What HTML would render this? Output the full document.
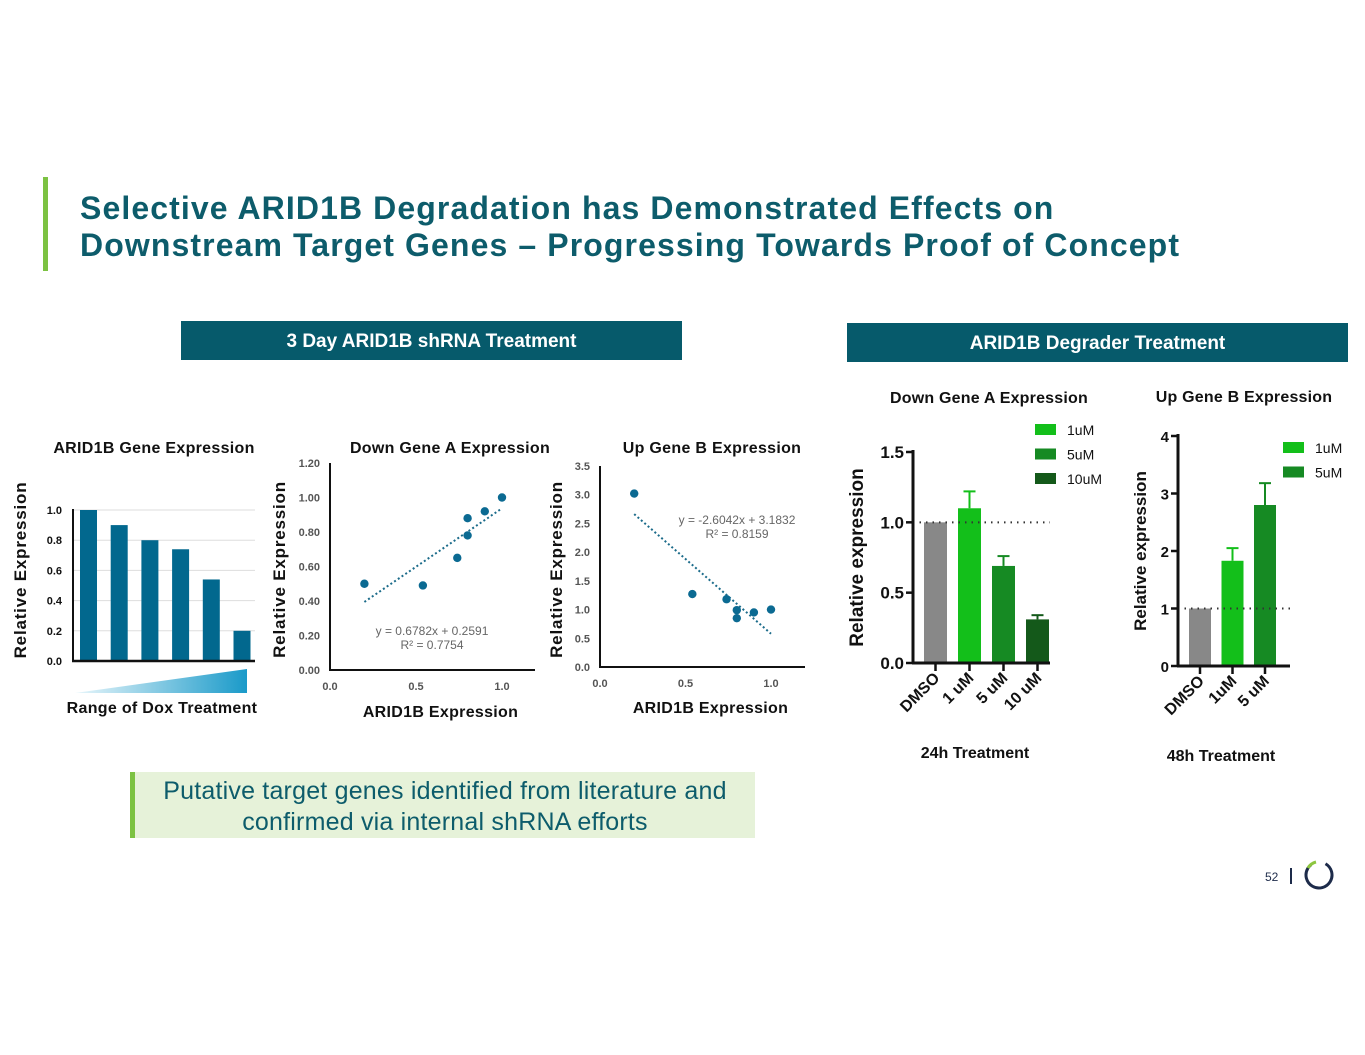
<!DOCTYPE html>
<html><head><meta charset="utf-8"><style>
body{margin:0;background:#fff;font-family:"Liberation Sans",Arial,sans-serif}
#root{position:relative;width:1365px;height:1055px;overflow:hidden}
.t{position:absolute;font-weight:bold}
</style></head><body>
<div id="root">
<div style="position:absolute;left:43px;top:177px;width:5px;height:94px;background:#7cc242"></div>
<div class="t" style="left:80px;top:190px;font-size:32px;letter-spacing:1.1px;line-height:37px;color:#0d5c6b">Selective ARID1B Degradation has Demonstrated Effects on<br>Downstream Target Genes – Progressing Towards Proof of Concept</div>
<div class="t" style="left:181px;top:321px;width:501px;height:39px;background:#065a6b;color:#fff;font-size:19px;line-height:41px;text-align:center">3 Day ARID1B shRNA Treatment</div>
<div class="t" style="left:847px;top:323px;width:501px;height:39px;background:#065a6b;color:#fff;font-size:19px;line-height:41px;text-align:center">ARID1B Degrader Treatment</div>
<div style="position:absolute;left:130px;top:772px;width:625px;height:66px;background:#e6f2d9;border-left:5px solid #7cc242;box-sizing:border-box;color:#0d5c6b;font-size:25px;letter-spacing:0.2px;line-height:31px;text-align:center;padding-top:4px">Putative target genes identified from literature and<br>confirmed via internal shRNA efforts</div>
<div style="position:absolute;left:1265px;top:870px;font-size:12px;color:#1d2b4a">52</div>
<div style="position:absolute;left:1290px;top:868px;width:1.5px;height:16px;background:#1d2b4a"></div>
<svg style="position:absolute;left:1303px;top:859px" width="32" height="32"><circle cx="16" cy="16" r="13" fill="none" stroke="#1d2b4a" stroke-width="3" stroke-dasharray="66 82" transform="rotate(-60 16 16)"/><path d="M5 9 A13 13 0 0 1 13 3" fill="none" stroke="#8dc63f" stroke-width="3"/></svg>
<svg id="ch" width="1365" height="1055" style="position:absolute;left:0;top:0">
<defs><linearGradient id="gr" x1="0" x2="1"><stop offset="0" stop-color="#e8f6fb"/><stop offset="1" stop-color="#1a9ac9"/></linearGradient></defs>
</svg>
</div>
<script>
const dox=[1.0,0.9,0.8,0.74,0.54,0.2];
const doxTicks=[0,0.2,0.4,0.6,0.8,1.0];
const aX=[0.2,0.54,0.74,0.8,0.8,0.9,1.0];
const aY=[0.50,0.49,0.65,0.88,0.78,0.92,1.0];
const aTicks=[0,0.2,0.4,0.6,0.8,1.0,1.2];
const aSlope=0.6782, aInt=0.2591;
const bX=[0.2,0.54,0.74,0.8,0.8,0.9,1.0];
const bY=[3.02,1.27,1.18,0.99,0.85,0.95,1.0];
const bTicks=[0,0.5,1,1.5,2,2.5,3,3.5];
const bSlope=-2.6042, bInt=3.1832;
const xTicks=[0,0.5,1.0];
const d24Cats=["DMSO","1 uM","5 uM","10 uM"];
const d24Vals=[1.0,1.1,0.69,0.31];
const d24Err=[0,0.12,0.07,0.03];
const d24Ticks=[0,0.5,1.0,1.5];
const d48Cats=["DMSO","1uM","5 uM"];
const d48Vals=[1.0,1.83,2.8];
const d48Err=[0,0.22,0.38];
const d48Ticks=[0,1,2,3,4];

const svg=document.getElementById('ch');
const NS='http://www.w3.org/2000/svg';
function mk(tag,at,txt){const e=document.createElementNS(NS,tag);for(const k in at)e.setAttribute(k,at[k]);if(txt!==undefined)e.textContent=txt;svg.appendChild(e);return e;}
function lin(d0,d1,r0,r1){return v=>r0+(v-d0)/(d1-d0)*(r1-r0);}
function txt(x,y,s,size,anchor,fill,name,extra){const e=mk('text',Object.assign({x:x,y:y,'font-size':size,'text-anchor':anchor||'middle',fill:fill||'#111','font-weight':'bold','font-family':'Liberation Sans, Arial, sans-serif'},extra||{}),s);

return e;}
function ln(x1,y1,x2,y2,st,w,name,dash){const e=mk('line',{x1,y1,x2,y2,stroke:st,'stroke-width':w});if(dash)e.setAttribute('stroke-dasharray',dash);

return e;}

// Chart 1
{const y=lin(0,1,661,510);
txt(154,453,"ARID1B Gene Expression",16,'middle','#111','chart1-title',{'letter-spacing':'0.3'});
doxTicks.forEach(t=>{if(t>0)ln(73,y(t),255,y(t),'#ddd',1,'chart1-gridline');txt(62,y(t)+4,t.toFixed(1),11,'end','#111','chart1-ytick');});
dox.forEach((v,i)=>{const r=mk('rect',{x:80+i*30.7,y:y(v),width:17,height:661-y(v),fill:'#02688e'});

});
ln(73,509,73,662,'#111',2,'chart1-y-axis');ln(72,661,255,661,'#111',2.5,'chart1-x-axis');
txt(26,570,"Relative  Expression",17,'middle','#111','chart1-y-title',{transform:'rotate(-90 26 570)','letter-spacing':'0.8'});
const p=mk('polygon',{points:'75,693 247,669 247,693',fill:'url(#gr)'});


txt(162,713,"Range of Dox Treatment",16,'middle','#111','chart1-x-title',{'letter-spacing':'0.3'});}

function scatter(pre,X0,Xr,Y0,Ytop,ymax,ticks,dec,xs,ys,sl,ic,eq,eqx,eqy,title,tx,ty,ytx,xtitleY){
 const x=lin(0,1,X0,Xr),y=lin(0,ymax,Y0,Ytop);
 txt(tx,ty,title,16,'middle','#111',pre+'-title',{'letter-spacing':'0.3'});
 ticks.forEach(t=>txt(X0-10,y(t)+4,t.toFixed(dec),11,'end','#555',pre+'-ytick'));
 xTicks.forEach(t=>txt(x(t),Y0+20,t.toFixed(1),11,'middle','#555',pre+'-xtick'));
 ln(X0,Ytop,X0,Y0+1,'#111',2,pre+'-y-axis');ln(X0-1,Y0,X0+205,Y0,'#111',2,pre+'-x-axis');
 ln(x(0.2),y(sl*0.2+ic),x(1),y(sl+ic),'#1b6b8a',2,pre+'-trendline','2 2.5');
 xs.forEach((v,i)=>{const c=mk('circle',{cx:x(v),cy:y(ys[i]),r:4.2,fill:'#0b6a92'});
 
 });
 txt(eqx,eqy,eq[0],12,'middle','#666',pre+'-equation',{'font-weight':'normal'});
 txt(eqx,eqy+14,eq[1],12,'middle','#666',pre+'-r2',{'font-weight':'normal'});
 txt(ytx,(Ytop+Y0)/2+3,"Relative  Expression",17,'middle','#111',pre+'-y-title',{transform:`rotate(-90 ${ytx} ${(Ytop+Y0)/2+3})`,'letter-spacing':'0.8'});
 txt((X0+X0+205)/2+8,xtitleY,"ARID1B Expression",16,'middle','#111',pre+'-x-title',{'letter-spacing':'0.3'});
}
scatter('chart2',330,502,670,463,1.2,aTicks,2,aX,aY,aSlope,aInt,["y = 0.6782x + 0.2591","R² = 0.7754"],432,635,"Down Gene A Expression",450,453,285,717);
scatter('chart3',600,771,667,466,3.5,bTicks,1,bX,bY,bSlope,bInt,["y = -2.6042x + 3.1832","R² = 0.8159"],737,524,"Up Gene B Expression",712,453,562,713);

function bars(pre,X0,Xr,Y0,Ytop,ymax,ticks,cats,vals,err,cols,x0,step,bw,title,tx,ty,sub,subx,legend,lx,ly,dotEnd,ytx,tickFs,dec,ytFs){
 const y=lin(0,ymax,Y0,Ytop);
 txt(tx,ty,title,16,'middle','#111',pre+'-title',{'letter-spacing':'0.2'});
 ticks.forEach(t=>{txt(X0-9,y(t)+6,t.toFixed(dec),tickFs,'end','#111',pre+'-ytick');ln(X0-7,y(t),X0,y(t),'#111',2.5,pre+'-ytickmark');});
 vals.forEach((v,i)=>{const bx=x0+i*step;const r=mk('rect',{x:bx,y:y(v),width:bw,height:Y0-y(v),fill:cols[i]});
  
  
  if(err[i]>0){ln(bx+bw/2,y(v),bx+bw/2,y(v+err[i]),cols[i],2,pre+'-errorbar');ln(bx+bw/2-6,y(v+err[i]),bx+bw/2+6,y(v+err[i]),cols[i],2,pre+'-errorcap');}
  const cx=bx+bw/2;ln(cx,Y0,cx,Y0+8,'#111',2.5,pre+'-xtickmark');
  txt(cx+5,Y0+16,cats[i],16,'end','#111',pre+'-xlabel',{transform:`rotate(-45 ${cx+5} ${Y0+16})`});
 });
 ln(X0,y(1),dotEnd,y(1),'#333',2,pre+'-baseline-dots','1.5 5');
 ln(X0,Ytop-2,X0,Y0+1,'#111',3,pre+'-y-axis');ln(X0-1,Y0,Xr,Y0,'#111',3,pre+'-x-axis');
 txt(ytx,(Ytop+Y0)/2,"Relative expression",ytFs,'middle','#111',pre+'-y-title',{transform:`rotate(-90 ${ytx} ${(Ytop+Y0)/2})`});
 txt(subx,Y0+95,sub,16,'middle','#111',pre+'-subtitle');
 legend.forEach((l,i)=>{const r=mk('rect',{x:lx,y:ly+i*24.5-6,width:21,height:11,fill:cols[i+1]});
  
  
  txt(lx+32,ly+i*24.5+5,l,14,'start','#111',pre+'-legend-label',{'font-weight':'normal'});});
}
bars('chart4',913,1050,663,452,1.5,d24Ticks,d24Cats,d24Vals,d24Err,['#888','#13bf1a','#168a23','#14591a'],924,34,23,"Down Gene A Expression",989,403,"24h Treatment",975,["1uM","5uM","10uM"],1035,430,1050,863,17,1,19);
bars('chart5',1178,1290,666,436,4,d48Ticks,d48Cats,d48Vals,d48Err,['#888','#13bf1a','#168a23'],1189,32.5,22,"Up Gene B Expression",1244,402,"48h Treatment",1221,["1uM","5uM"],1283,448,1290,1146,15,0,17);
</script>
</body></html>
